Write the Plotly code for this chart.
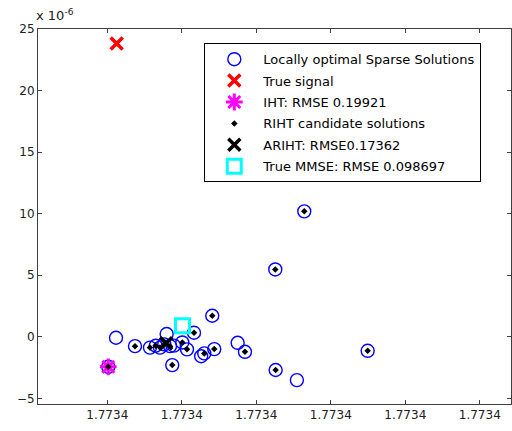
import plotly.graph_objects as go

# Base value of the horizontal coordinate; offsets are in units of 1e-7
X0 = 1.7734
XSTEP = 1e-7

# Locally optimal sparse solutions (x offset, y in units of 1e-6)
loc_dx = [2.644, 2.255, 1.409, 1.164, 3.495, 1.848, 1.436, 1.302, 1.26, 1.070,
          1.007, 2.26, 0.872, 0.372, 0.117, 0.797, 1.750, 2.545,
          0.573, 0.650, 0.707, 0.765, 0.842, 0.895, 0.013]
loc_y = [10.19, 5.47, 1.71, 0.33, -1.14, -1.22, -1.00, -1.35, -1.58, -1.02,
         -0.46, -2.70, -2.30, -0.76, -0.08, 0.22, -0.49, -3.52,
         -0.88, -0.73, -0.88, -0.62, -0.76, -0.72, -2.44]

# RIHT candidate solutions
cand_dx = [2.644, 2.255, 1.409, 1.164, 3.495, 1.848, 1.436, 1.302, 1.070,
           1.007, 2.26, 0.872, 0.372,
           0.573, 0.650, 0.707, 0.765, 0.842, 0.013]
cand_y = [10.19, 5.47, 1.71, 0.33, -1.14, -1.22, -1.00, -1.35, -1.02,
          -0.46, -2.70, -2.30, -0.76,
          -0.88, -0.73, -0.88, -0.62, -0.76, -2.44]

true_dx, true_y = [0.126], [23.83]
iht_dx, iht_y = [0.013], [-2.44]
ariht_dx, ariht_y = [0.79], [-0.53]
mmse_dx, mmse_y = [1.009], [0.89]

tick_dx = [0, 1, 2, 3, 4, 5]
tick_text = ["1.7734"] * len(tick_dx)
ytick_vals = [-5, 0, 5, 10, 15, 20, 25]

FONT = "DejaVu Sans, Verdana, sans-serif"

def xs(d):
    return [X0 + v * XSTEP for v in d]

fig = go.Figure()
fig.add_trace(go.Scatter(
    x=xs(loc_dx), y=loc_y, mode="markers", name="Locally optimal Sparse Solutions",
    legendgroup="a",
    marker=dict(symbol="circle-open", size=13, color="#0000ff", line=dict(width=1.4, color="#0000ff"))))
fig.add_trace(go.Scatter(
    x=xs(true_dx), y=true_y, mode="markers", name="True signal", legendgroup="b",
    marker=dict(symbol="x-thin-open", size=12, color="#ff0000", line=dict(width=3.5, color="#ff0000"))))
fig.add_trace(go.Scatter(
    x=xs(iht_dx), y=iht_y, mode="markers", name="IHT: RMSE 0.19921", legendgroup="c",
    marker=dict(symbol="asterisk-open", size=14, color="#ff00ff", line=dict(width=3, color="#ff00ff"))))
fig.add_trace(go.Scatter(
    x=xs(cand_dx), y=cand_y, mode="markers", name="RIHT candidate solutions", legendgroup="d",
    marker=dict(symbol="diamond", size=5, color="#000000")))
fig.add_trace(go.Scatter(
    x=xs(ariht_dx), y=ariht_y, mode="markers", name="ARIHT: RMSE0.17362", legendgroup="e",
    marker=dict(symbol="x-thin-open", size=12, color="#000000", line=dict(width=3.5, color="#000000"))))
fig.add_trace(go.Scatter(
    x=xs(mmse_dx), y=mmse_y, mode="markers", name="True MMSE: RMSE 0.098697", legendgroup="f",
    marker=dict(symbol="square-open", size=14, color="#00ffff", line=dict(width=3, color="#00ffff"))))

axis_common = dict(
    showline=True, linecolor="#404040", linewidth=1, mirror="allticks",
    ticks="inside", ticklen=4, tickcolor="#404040", showgrid=False, zeroline=False,
    tickfont=dict(family=FONT, size=12, color="#202020"),
)

fig.update_layout(
    width=512, height=431,
    margin=dict(l=38, r=1, t=29, b=27),
    paper_bgcolor="white", plot_bgcolor="white",
    xaxis=dict(range=[X0 - 0.930 * XSTEP, X0 + 5.419 * XSTEP],
               tickmode="array", tickvals=xs(tick_dx), ticktext=tick_text, **axis_common),
    yaxis=dict(range=[-5.46, 25], tickmode="array", tickvals=ytick_vals, **axis_common),
    legend=dict(x=0.3516, y=0.962, xanchor="left", yanchor="top",
                bgcolor="white", bordercolor="#000000", borderwidth=1,
                tracegroupgap=1.5, itemwidth=48,
                font=dict(family=FONT, size=13, color="#000000")),
    showlegend=True,
    annotations=[dict(text="x 10<sup>-6</sup>", xref="paper", yref="paper", x=0, y=1.0,
                      xanchor="left", yanchor="bottom", showarrow=False, xshift=-4, yshift=4,
                      font=dict(family=FONT, size=13, color="#202020"))],
)

fig.write_html("out.html")
